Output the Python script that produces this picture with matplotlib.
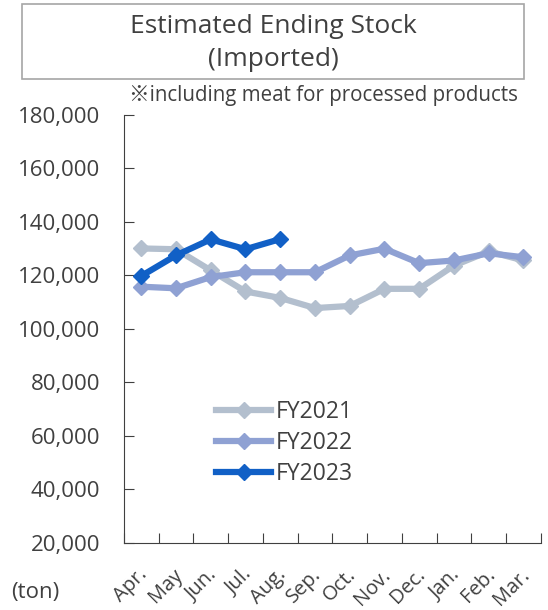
import matplotlib
matplotlib.use("Agg")
import matplotlib.pyplot as plt
from matplotlib.patches import Rectangle

plt.rcParams['font.family'] = ['Open Sans', 'Noto Sans CJK JP', 'DejaVu Sans']

months = ["Apr.", "May", "Jun.", "Jul.", "Aug.", "Sep.", "Oct.", "Nov.", "Dec.", "Jan.", "Feb.", "Mar."]
fy2021 = [130100, 129800, 121900, 114000, 111600, 107800, 108600, 115000, 115000, 123700, 129000, 125600]
fy2022 = [115800, 115200, 119400, 121200, 121200, 121200, 127500, 130000, 124600, 125600, 128300, 126800]
fy2023 = [119800, 127500, 133500, 129800, 133600]

c21 = "#B3BFCE"
c22 = "#8FA1D3"
c23 = "#1160C6"
tc = "#404040"

fig = plt.figure(figsize=(5.48, 6.10), dpi=100)
ax = fig.add_axes([0.226, 0.11, 0.761, 0.7015])

x = list(range(len(months)))
ax.plot(x, fy2021, color=c21, lw=4.5, marker="D", ms=8.5, label="FY2021")
ax.plot(x, fy2022, color=c22, lw=4.5, marker="D", ms=8.5, label="FY2022")
ax.plot(x[:len(fy2023)], fy2023, color=c23, lw=4.5, marker="D", ms=8.5, label="FY2023")

ax.set_xlim(-0.5, 11.5)
ax.set_ylim(20000, 180000)
ax.set_yticks(range(20000, 180001, 20000))
ax.set_yticklabels([f"{v:,}" for v in range(20000, 180001, 20000)], fontsize=16, color=tc)
ax.set_xticks([i + 0.5 for i in range(-1, 12)])
ax.set_xticklabels([])
for i, m in enumerate(months):
    ax.text(i + 0.3, 11800, m, rotation=45, ha="right", va="top", fontsize=14.5, color=tc)
ax.tick_params(axis="both", direction="in", length=7, color=tc)
ax.tick_params(axis="y", pad=17)
for s in ["top", "right"]:
    ax.spines[s].set_visible(False)
for s in ["left", "bottom"]:
    ax.spines[s].set_color(tc)

ax.legend(loc="upper left", bbox_to_anchor=(0.2, 0.355), frameon=False, fontsize=16.5,
          handlelength=2.4, handletextpad=0.2, labelspacing=0.3, labelcolor=tc,
          borderaxespad=0)

fig.text(0.02, 0.029, "(ton)", fontsize=16, color=tc, va="center")

fig.patches.append(Rectangle((0.04, 0.871), 0.916, 0.122, transform=fig.transFigure,
                             fill=False, edgecolor="#A6A6A6", lw=1.2))
fig.text(0.498, 0.956, "Estimated Ending Stock", ha="center", va="center", fontsize=19, color=tc)
fig.text(0.498, 0.902, "(Imported)", ha="center", va="center", fontsize=19, color=tc)
fig.text(0.945, 0.843, "※including meat for processed products", ha="right", va="center",
         fontsize=14.8, color=tc)

fig.savefig("out.png", dpi=100)
